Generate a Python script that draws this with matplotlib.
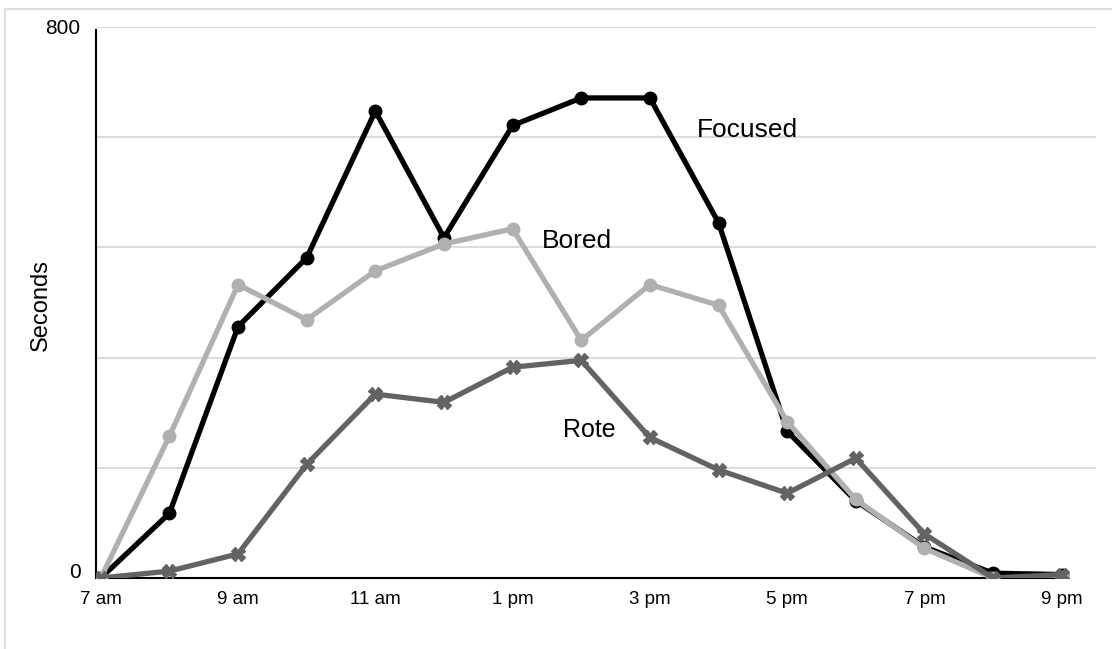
import numpy as np
import matplotlib
matplotlib.use("Agg")
import matplotlib.pyplot as plt
import matplotlib.transforms as mtransforms
from matplotlib.lines import Line2D

plt.rcParams['font.family'] = ['Liberation Sans', 'DejaVu Sans']

# hours of the day, 7 am .. 9 pm
hours = list(range(7, 22))
focused = [0, 94, 365, 465, 678, 494, 657, 697, 697, 516, 213, 112, 45, 7, 5]
bored = [0, 206, 426, 375, 446, 485, 507, 345, 426, 396, 227, 114, 43, 0, 2]
rote = [0, 10, 35, 165, 267, 255, 306, 316, 204, 157, 123, 174, 64, 0, 5]

tick_hours = [7, 9, 11, 13, 15, 17, 19, 21]
tick_labels = ["7 am", "9 am", "11 am", "1 pm", "3 pm", "5 pm", "7 pm", "9 pm"]

fig = plt.figure(figsize=(11.12, 6.49), dpi=100)
ax = fig.add_axes([96/1112, 1 - 578/649, 1000/1112, 551/649])

ax.plot(hours, focused, color='black', lw=3.8, marker='o', ms=9, zorder=3)
ax.plot(hours, bored, color='#b0b0b0', lw=3.8, marker='o', ms=9, zorder=4)
ax.plot(hours, rote, color='#636363', lw=3.8, marker='X', ms=10, zorder=5)

ax.text(15.68, 650, "Focused", fontsize=19, va='center', ha='left')
ax.text(13.42, 490, "Bored", fontsize=19, va='center', ha='left')
ax.text(13.73, 215, "Rote", fontsize=18, va='center', ha='left')

ax.set_xlim(6.93, 21.5)
ax.set_ylim(0, 800)
ax.set_yticks([0, 800])
ax.set_yticklabels(["0", "800"], fontsize=15)
ax.set_xticks(tick_hours)
ax.set_xticklabels(tick_labels, fontsize=13.5)
ax.tick_params(axis='x', length=0, pad=9)
ax.tick_params(axis='y', length=0, pad=11)
ax.set_ylabel("Seconds", fontsize=17)
ax.yaxis.set_label_coords(-0.044, 0.495)

# the "0" label sits a little above the baseline in the original
lbl0 = ax.get_yticklabels()[0]
lbl0.set_transform(lbl0.get_transform() + mtransforms.ScaledTranslation(0, 8/100, fig.dpi_scale_trans))

for v in [160, 320, 480, 640, 800]:
    ax.axhline(v, color='#dcdcdc', lw=1.5, zorder=0)

for s in ['top', 'right']:
    ax.spines[s].set_visible(False)
ax.spines['left'].set_color('black')
ax.spines['left'].set_linewidth(1.5)
ax.spines['bottom'].set_linewidth(1.5)
ax.spines['left'].set_bounds(0, 795)
ax.spines['bottom'].set_bounds(6.93, 21.0)

# light frame around the chart
fig.add_artist(Line2D([5/1112, 5/1112], [0, 1 - 9/649], color='#dddddd', lw=1.5))
fig.add_artist(Line2D([5/1112, 1], [1 - 9/649, 1 - 9/649], color='#dddddd', lw=1.5))

fig.savefig("out.png", dpi=100)
